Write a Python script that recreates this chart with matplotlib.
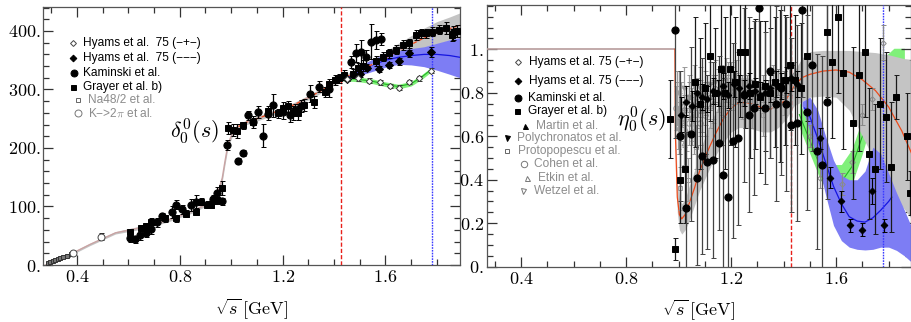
import numpy as np
import matplotlib
matplotlib.use("Agg")
import matplotlib.pyplot as plt
from matplotlib.ticker import FixedLocator, FixedFormatter, MultipleLocator

plt.rcParams['mathtext.fontset'] = 'cm'
plt.rcParams['font.family'] = ['Liberation Sans', 'DejaVu Sans']

# ---------------- ticks ----------------
x_ticks = [0.4, 0.8, 1.2, 1.6]
x_tick_labels = ['0.4', '0.8', '1.2', '1.6']
d_ticks = [0, 100, 200, 300, 400]
d_tick_labels = ['0.', '100.', '200.', '300.', '400.']
e_ticks = [0, 0.2, 0.4, 0.6, 0.8, 1.0]
e_tick_labels = ['0.', '0.2', '0.4', '0.6', '0.8', '1.']

E_red = 1.428
E_blue = 1.78

# ---------------- left: phase shift fit bands ----------------
d_fit_E = [0.279, 0.35, 0.45, 0.55, 0.65, 0.75, 0.85, 0.90, 0.93, 0.95, 0.965, 0.975, 0.985, 0.995,
           1.01, 1.03, 1.06, 1.10, 1.15, 1.20, 1.25, 1.30, 1.35, 1.40, 1.45, 1.50, 1.55, 1.60,
           1.65, 1.70, 1.75, 1.80, 1.85, 1.89]
d_fit = [0, 13, 35, 55, 64, 76, 92, 103, 113, 127, 148, 175, 200, 215,
         230, 237, 244, 250, 258, 266, 275, 286, 298, 311, 322, 333, 343, 354,
         366, 377, 388, 397, 404, 410]
d_fit_err = [1, 2, 2, 2, 3, 3, 3, 3, 4, 5, 6, 6, 6, 5,
             5, 4, 4, 4, 4, 4, 4, 4, 4, 4, 5, 7, 9, 11,
             13, 15, 17, 19, 20, 21]

d_blue_E = [1.44, 1.47, 1.50, 1.55, 1.60, 1.65, 1.70, 1.75, 1.80, 1.85, 1.89]
d_blue = [316, 325, 332, 342, 350, 355, 358, 360, 360, 358, 355]
d_blue_lo = [314, 320, 324, 331, 338, 343, 342, 339, 333, 326, 320]
d_blue_hi = [318, 330, 340, 352, 360, 366, 370, 373, 379, 385, 389]

d_green_E = [1.43, 1.47, 1.50, 1.55, 1.60, 1.65, 1.70, 1.74, 1.778]
d_green = [318, 318, 317, 314, 309, 305, 310, 321, 334]
d_green_err = [4, 4, 4, 4, 4, 4, 4, 4, 4]

# ---------------- left: data ----------------
kam_l_E = [0.606, 0.625, 0.645, 0.67, 0.69, 0.71, 0.729, 0.768, 0.787, 0.807, 0.845, 0.865, 0.928,
           0.946, 0.966, 0.985, 1.026, 1.046, 1.065, 1.085, 1.104, 1.123, 1.143, 1.162, 1.20, 1.227,
           1.25, 1.27, 1.305, 1.343, 1.38, 1.466, 1.486, 1.505, 1.525, 1.544, 1.563, 1.583, 1.861]
kam_l = [47, 44, 51, 54, 61, 73, 83, 91, 103, 95, 103, 107, 112,
         123, 109, 205, 178, 192, 256, 245, 262, 221, 258, 273, 262, 256,
         265, 272, 293, 305, 300, 347, 362, 364, 356, 382, 385, 386, 396]
kam_l_err = [8, 6, 8, 6, 8, 8, 6, 10, 8, 8, 10, 12, 8,
             10, 6, 8, 5, 5, 8, 10, 10, 20, 10, 20, 12, 12,
             10, 10, 15, 10, 12, 10, 15, 20, 12, 30, 15, 10, 12]

gray_l_E = [0.606, 0.65, 0.67, 0.69, 0.743, 0.787, 0.826, 0.865, 0.884, 0.904, 0.923, 0.946, 0.966,
            0.988, 1.007, 1.022, 1.046, 1.085, 1.143, 1.182, 1.201, 1.22, 1.24, 1.259, 1.285, 1.324,
            1.363, 1.382, 1.402, 1.421, 1.44, 1.473, 1.492, 1.512, 1.563, 1.589, 1.615, 1.641, 1.667,
            1.693, 1.719, 1.738, 1.757, 1.783, 1.809, 1.835, 1.86, 1.88]
gray_l = [57, 63, 66, 74, 80, 80, 88, 91, 108, 103, 103, 111, 132,
          234, 231, 229, 239, 245, 264, 259, 268, 271, 259, 259, 274, 279,
          296, 310, 316, 319, 325, 327, 336, 341, 349, 356, 362, 368, 376,
          379, 393, 396, 396, 399, 402, 405, 393, 400]
gray_l_err = [5, 5, 5, 6, 6, 6, 6, 6, 6, 6, 6, 6, 12,
              10, 10, 12, 6, 6, 8, 8, 10, 10, 12, 12, 10, 10,
              8, 8, 8, 8, 8, 8, 10, 10, 8, 8, 8, 8, 8,
              8, 8, 8, 8, 8, 8, 10, 10, 10]

hy2_l_E = [1.45, 1.50, 1.53, 1.574, 1.613, 1.654, 1.693, 1.777]
hy2_l = [318, 326, 337, 335, 342, 348, 362, 364]
hy2_l_err = [4, 4, 4, 5, 5, 6, 6, 8]

hy1_l_E = [1.45, 1.492, 1.535, 1.577, 1.616, 1.654, 1.693, 1.732, 1.777]
hy1_l = [318, 319, 315, 312, 306, 303, 313, 319, 332]
hy1_l_err = [3, 4, 4, 4, 4, 4, 4, 4, 4]

na48_E = [0.286, 0.295, 0.305, 0.315, 0.325, 0.335, 0.345, 0.36, 0.375]
na48 = [3, 5, 7, 9, 11, 12, 14, 16, 18]
na48_err = [1.5, 1.5, 1.5, 1.5, 1.5, 1.5, 1.5, 1.5, 1.5]

k2pi_E = [0.386, 0.493]
k2pi = [21, 48]
k2pi_err = [3, 6]

# ---------------- right: inelasticity fit bands ----------------
e_fit_E = [0.27, 0.986, 0.988, 0.995, 1.003, 1.012, 1.025, 1.04, 1.06, 1.08, 1.11, 1.14, 1.17,
           1.20, 1.23, 1.26, 1.29, 1.32, 1.35, 1.38, 1.41, 1.44, 1.47, 1.50, 1.55, 1.60, 1.65,
           1.70, 1.75, 1.80, 1.85, 1.888]
e_fit = [1.0, 1.0, 0.60, 0.32, 0.24, 0.22, 0.24, 0.29, 0.36, 0.44, 0.53, 0.61, 0.68,
         0.73, 0.755, 0.755, 0.745, 0.73, 0.725, 0.74, 0.77, 0.83, 0.87, 0.885, 0.90, 0.905, 0.895,
         0.86, 0.81, 0.735, 0.625, 0.52]
e_gray_lo = [0.997, 0.997, 0.54, 0.25, 0.17, 0.15, 0.17, 0.21, 0.28, 0.35, 0.43, 0.51, 0.57,
             0.62, 0.64, 0.64, 0.63, 0.62, 0.62, 0.64, 0.68, 0.74, 0.76, 0.78, 0.785, 0.78, 0.72,
             0.60, 0.48, 0.38, 0.28, 0.22]
e_gray_hi = [1.003, 1.003, 0.66, 0.39, 0.31, 0.29, 0.31, 0.37, 0.44, 0.53, 0.63, 0.71, 0.79,
             0.84, 0.87, 0.87, 0.86, 0.84, 0.83, 0.84, 0.86, 0.90, 0.96, 0.99, 0.995, 0.995, 0.995,
             0.99, 0.985, 0.975, 0.96, 0.95]

e_blue_E = [1.47, 1.50, 1.53, 1.56, 1.59, 1.62, 1.65, 1.68, 1.71, 1.74, 1.77, 1.80, 1.83, 1.86, 1.888]
e_blue_lo = [0.74, 0.62, 0.48, 0.33, 0.19, 0.12, 0.09, 0.08, 0.077, 0.08, 0.09, 0.09, 0.075, 0.05, 0.02]
e_blue_hi = [0.76, 0.78, 0.72, 0.60, 0.49, 0.42, 0.40, 0.40, 0.44, 0.55, 0.52, 0.43, 0.34, 0.26, 0.18]
e_blue_line_E = [1.48, 1.50, 1.53, 1.56, 1.59, 1.62, 1.65, 1.68, 1.71, 1.74, 1.77, 1.80, 1.812]
e_blue_line = [0.73, 0.69, 0.59, 0.48, 0.37, 0.29, 0.23, 0.21, 0.205, 0.225, 0.26, 0.30, 0.32]

e_green_E = [1.46, 1.50, 1.54, 1.58, 1.62, 1.66, 1.70, 1.74, 1.78, 1.82, 1.86]
e_green = [0.70, 0.58, 0.46, 0.40, 0.39, 0.46, 0.60, 0.76, 0.90, 0.95, 0.95]
e_green_err = [0.06, 0.06, 0.06, 0.07, 0.08, 0.08, 0.08, 0.07, 0.06, 0.055, 0.055]

# ---------------- right: data ----------------
kam_r_E = [0.987, 1.006, 1.029, 1.048, 1.069, 1.088, 1.109, 1.13, 1.152, 1.168, 1.19, 1.209, 1.228,
           1.25, 1.269, 1.288, 1.307, 1.329, 1.349, 1.37, 1.39, 1.41, 1.429, 1.45, 1.469, 1.488,
           1.507, 1.529, 1.548, 1.567]
kam_r = [1.09, 0.60, 0.27, 0.61, 0.41, 0.51, 0.48, 0.49, 0.57, 0.42, 0.32, 0.58, 0.59,
         0.79, 0.70, 0.73, 1.19, 0.73, 0.90, 0.75, 0.82, 0.75, 0.65, 0.66, 1.18, 0.71,
         0.93, 0.53, 0.47, 0.76]
kam_r_err = [0.5, 0.3, 0.35, 0.4, 0.4, 0.45, 0.4, 0.45, 0.4, 0.45, 0.4, 0.45, 0.4,
             0.4, 0.45, 0.4, 0.4, 0.35, 0.4, 0.45, 0.4, 0.4, 0.4, 0.45, 0.4, 0.45,
             0.4, 0.45, 0.5, 0.45]

gray_r_E = [0.968, 0.987, 1.006, 1.025, 1.063, 1.082, 1.101, 1.12, 1.139, 1.16, 1.178, 1.196, 1.215,
            1.234, 1.253, 1.272, 1.291, 1.31, 1.33, 1.349, 1.368, 1.387, 1.405, 1.425, 1.445, 1.465,
            1.488, 1.567, 1.586, 1.609, 1.628, 1.666, 1.689, 1.71, 1.727, 1.749, 1.768, 1.789, 1.808,
            1.828, 1.869, 1.882]
gray_r = [0.68, 0.08, 0.40, 0.45, 0.85, 0.75, 0.82, 0.97, 0.80, 0.91, 0.80, 0.91, 0.85,
          0.99, 0.99, 0.80, 0.84, 0.78, 0.83, 0.80, 0.85, 0.83, 0.86, 0.93, 0.86, 0.82,
          0.97, 1.08, 0.94, 1.15, 0.89, 0.66, 0.88, 0.99, 0.52, 0.45, 0.75, 0.69, 0.46,
          0.78, 0.60, 0.34]
gray_r_err = [0.18, 0.05, 0.2, 0.25, 0.3, 0.3, 0.3, 0.3, 0.3, 0.35, 0.35, 0.35, 0.3,
              0.3, 0.35, 0.3, 0.3, 0.35, 0.3, 0.3, 0.3, 0.35, 0.3, 0.3, 0.3, 0.3,
              0.3, 0.3, 0.35, 0.35, 0.35, 0.35, 0.35, 0.3, 0.3, 0.3, 0.3, 0.3, 0.3,
              0.1, 0.2, 0.1]

hy2_r_E = [1.01, 1.03, 1.05, 1.07, 1.09, 1.11, 1.13, 1.15, 1.17, 1.19, 1.21, 1.23, 1.25, 1.27,
           1.29, 1.31, 1.33, 1.35, 1.37, 1.39, 1.41, 1.43, 1.45, 1.539, 1.577, 1.619, 1.653, 1.698,
           1.738, 1.781]
hy2_r = [0.70, 0.76, 0.74, 0.80, 0.78, 0.77, 0.81, 0.80, 0.83, 0.79, 0.84, 0.82, 0.80, 0.83,
         0.81, 0.79, 0.80, 0.82, 0.84, 0.83, 0.86, 0.87, 0.84, 0.59, 0.41, 0.30, 0.19, 0.17,
         0.35, 0.19]
hy2_r_err = [0.08, 0.07, 0.07, 0.06, 0.06, 0.06, 0.06, 0.06, 0.06, 0.06, 0.06, 0.06, 0.06, 0.06,
             0.06, 0.06, 0.06, 0.06, 0.06, 0.06, 0.06, 0.06, 0.06, 0.05, 0.05, 0.05, 0.03, 0.03,
             0.06, 0.03]

hy1_r_E = [1.00, 1.02, 1.04, 1.06, 1.08, 1.10, 1.12, 1.14, 1.16, 1.18, 1.20, 1.22, 1.24, 1.26,
           1.28, 1.30, 1.32, 1.34, 1.36, 1.38, 1.40, 1.42, 1.44, 1.50, 1.539, 1.622, 1.66, 1.698,
           1.736, 1.78]
hy1_r = [0.60, 0.72, 0.78, 0.75, 0.80, 0.79, 0.78, 0.82, 0.80, 0.82, 0.81, 0.83, 0.80, 0.82,
         0.80, 0.78, 0.82, 0.80, 0.83, 0.85, 0.84, 0.85, 0.88, 0.60, 0.41, 0.38, 0.48, 0.70,
         0.77, 1.03]
hy1_r_err = [0.08, 0.07, 0.07, 0.06, 0.06, 0.06, 0.06, 0.06, 0.06, 0.06, 0.06, 0.06, 0.06, 0.06,
             0.06, 0.06, 0.06, 0.06, 0.06, 0.06, 0.06, 0.06, 0.06, 0.05, 0.05, 0.05, 0.05, 0.05,
             0.05, 0.08]

martin_E = [0.998, 1.01, 1.03, 1.05, 1.07, 1.09, 1.11, 1.13, 1.15, 1.17, 1.19]
martin = [0.64, 0.68, 0.63, 0.70, 0.74, 0.72, 0.78, 0.76, 0.81, 0.79, 0.84]
poly_E = [1.00, 1.02, 1.04, 1.06, 1.08, 1.10, 1.12, 1.14, 1.16, 1.18, 1.20, 1.22]
poly = [0.80, 0.82, 0.78, 0.83, 0.82, 0.80, 0.84, 0.85, 0.83, 0.86, 0.84, 0.85]
proto_E = [0.995, 1.005, 1.02, 1.035, 1.05, 1.065, 1.08, 1.10, 1.13, 1.16, 1.20, 1.24, 1.28,
           1.32, 1.36, 1.40]
proto = [0.75, 0.36, 0.65, 0.40, 0.72, 0.55, 0.70, 0.75, 0.78, 0.80, 0.82, 0.78, 0.74,
         0.70, 0.83, 0.80]
cohen_E = [0.99, 1.00, 1.01, 1.02, 1.04, 1.06, 1.08, 1.10]
cohen = [0.73, 0.70, 0.68, 0.72, 0.66, 0.62, 0.66, 0.70]
etkin_E = [1.0, 1.02, 1.05, 1.08, 1.12, 1.16, 1.20]
etkin = [0.62, 0.57, 0.66, 0.72, 0.74, 0.80, 0.82]
wetzel_E = [0.995, 1.01, 1.03, 1.05, 1.07, 1.09]
wetzel = [0.80, 0.75, 0.60, 0.68, 0.77, 0.72]
small_err = 0.1

# ---------------- legends ----------------
leg_l = ['Hyams et al.  75 (\u2212+\u2212)', 'Hyams et al.  75 (\u2212\u2212\u2212)',
         'Kaminski et al.', 'Grayer et al. b)', 'Na48/2 et al.', 'K\u2212>2$\\pi$ et al.']
leg_r = ['Hyams et al. 75 (\u2212+\u2212)', 'Hyams et al. 75 (\u2212\u2212\u2212)',
         'Kaminski et al.', 'Grayer et al. b)', 'Martin et al.', 'Polychronatos et al.',
         'Protopopescu et al.', 'Cohen et al.', 'Etkin et al.', 'Wetzel et al.']

# ---------------- colours ----------------
C_GRAYBAND = '#c4c4c4'
C_BLUEBAND = '#7d7df4'
C_GREENBAND = '#80f07a'
C_RED = '#ee4a1a'
C_BLUE = '#1414e0'
C_GREEN = '#22b822'
C_LGRAY = '#9a9a9a'

fig = plt.figure(figsize=(9.12, 3.22), dpi=100)
axL = fig.add_axes([43 / 912, 1 - 265 / 322, 417 / 912, 258 / 322])
axR = fig.add_axes([486.7 / 912, 1 - 266.7 / 322, 424.5 / 912, 261.7 / 322])


def style(ax, xl, yl, yt, ytl, ymin):
    ax.set_xlim(*xl)
    ax.set_ylim(*yl)
    ax.xaxis.set_major_locator(FixedLocator(x_ticks))
    ax.xaxis.set_major_formatter(FixedFormatter(['$' + t + '$' for t in x_tick_labels]))
    ax.xaxis.set_minor_locator(MultipleLocator(0.1))
    ax.yaxis.set_major_locator(FixedLocator(yt))
    ax.yaxis.set_major_formatter(FixedFormatter(['$' + t + '$' for t in ytl]))
    ax.yaxis.set_minor_locator(MultipleLocator(ymin))
    ax.tick_params(which='both', direction='in', top=True, right=True, color='#333333',
                   width=0.9, labelsize=13)
    ax.tick_params(which='major', length=7.5)
    ax.tick_params(which='minor', length=4.5)
    ax.tick_params(axis='y', pad=2)
    ax.tick_params(axis='x', pad=3)
    for s in ax.spines.values():
        s.set_color('#555555')
        s.set_linewidth(0.9)
    ax.set_xlabel(r'$\sqrt{s}\,[\mathrm{GeV}]$', fontsize=13, labelpad=7)


def eb(ax, E, v, err, marker, ms, mfc, mec, ecol, z, lw=0.9):
    ax.errorbar(E, v, yerr=err, fmt=marker, ms=ms, mfc=mfc, mec=mec, mew=0.7, ecolor=ecol,
                elinewidth=lw, capsize=1.8, capthick=lw, zorder=z)


# ======================= LEFT =======================
ax = axL
style(ax, (0.268, 1.89), (0, 441), d_ticks, d_tick_labels, 20)
E = np.array(d_fit_E); c = np.array(d_fit); w = np.array(d_fit_err)
ax.fill_between(d_green_E, np.array(d_green) - np.array(d_green_err),
                np.array(d_green) + np.array(d_green_err), color=C_GREENBAND, lw=0, zorder=1)
ax.plot(d_green_E, d_green, color=C_GREEN, lw=0.8, zorder=1.5)
ax.fill_between(E, c - w, c + w, color=C_GRAYBAND, lw=0, zorder=2)
ax.fill_between(d_blue_E, d_blue_lo, d_blue_hi, color=C_BLUEBAND, lw=0, zorder=2.5)
ax.plot(d_blue_E, d_blue, color=C_BLUE, lw=0.9, zorder=2.6)
ax.plot(E, c, color='#c9a3a3', lw=1.0, zorder=2.7)
hi = E >= 1.0
ax.plot(E[hi], c[hi], color=C_RED, lw=0.9, ls=(0, (3, 2)), zorder=2.8)
ax.axvline(E_red, color='#e8201a', lw=1.0, ls=(0, (3, 1.5)), zorder=3)
ax.axvline(E_blue, color='#3a3aff', lw=1.0, ls=(0, (1.2, 0.8)), zorder=3)

eb(ax, na48_E, na48, na48_err, 's', 3.0, '#777777', '#333333', '#333333', 4)
eb(ax, k2pi_E, k2pi, k2pi_err, 'o', 5.0, 'white', '#444444', '#222222', 4)
eb(ax, gray_l_E, gray_l, gray_l_err, 's', 3.8, 'black', 'black', 'black', 5)
eb(ax, kam_l_E, kam_l, kam_l_err, 'o', 5.2, 'black', 'black', 'black', 5)
eb(ax, hy2_l_E, hy2_l, hy2_l_err, 'D', 3.6, 'black', 'black', 'black', 6)
eb(ax, hy1_l_E, hy1_l, hy1_l_err, 'D', 3.2, 'white', '#444444', '#333333', 6)

ax.text(0.858, 227, r'$\delta_0^0(s)$', fontsize=16, ha='center', va='center', zorder=7)

lx_m = [0.0712, 0.0712, 0.0735, 0.0712, 0.0832, 0.0832]
lx_t = [0.0959, 0.0959, 0.0959, 0.0959, 0.1079, 0.1079]
ly = [0.8616, 0.8012, 0.7442, 0.6911, 0.6407, 0.5891]
lmk = [('D', 3.0, 'white', '#444444'), ('D', 3.4, 'black', 'black'), ('o', 5.0, 'black', 'black'),
       ('s', 3.6, 'black', 'black'), ('s', 3.2, 'white', '#666666'), ('o', 5.0, 'white', '#777777')]
lcol = ['black', 'black', 'black', 'black', '#8c8c8c', '#8c8c8c']
for i in range(6):
    m, ms, fc, ec = lmk[i]
    ax.plot([lx_m[i]], [ly[i]], m, ms=ms, mfc=fc, mec=ec, mew=0.7, transform=ax.transAxes,
            zorder=8)
    ax.text(lx_t[i], ly[i], leg_l[i], transform=ax.transAxes, fontsize=8.6, color=lcol[i],
            va='center', ha='left', zorder=8)

# ======================= RIGHT =======================
ax = axR
style(ax, (0.269, 1.886), (0, 1.204), e_ticks, e_tick_labels, 0.05)
ge = np.array(e_green); gw = np.array(e_green_err)
ax.fill_between(e_green_E, ge - gw, ge + gw, color=C_GREENBAND, lw=0, zorder=1)
ax.plot(e_green_E, e_green, color=C_GREEN, lw=0.8, zorder=1.5)
ax.fill_between(e_fit_E[1:], e_gray_lo[1:], e_gray_hi[1:], color=C_GRAYBAND, lw=0, zorder=2)
ax.fill_between(e_blue_E, e_blue_lo, e_blue_hi, color=C_BLUEBAND, lw=0, zorder=2.5)
ax.plot(e_blue_line_E, e_blue_line, color=C_BLUE, lw=0.9, zorder=2.6)
ax.plot(e_fit_E[:2], e_fit[:2], color='#b89c9c', lw=1.2, zorder=2.7)
ax.plot(e_fit_E[1:], e_fit[1:], color=C_RED, lw=0.9, zorder=2.8)
ax.axvline(E_red, color='#e8201a', lw=1.0, ls=(0, (3, 1.5)), zorder=3)
ax.axvline(E_blue, color='#3a3aff', lw=1.0, ls=(0, (1.2, 0.8)), zorder=3)

eb(ax, martin_E, martin, small_err, '^', 3.4, C_LGRAY, C_LGRAY, C_LGRAY, 4)
eb(ax, poly_E, poly, small_err, 'v', 3.4, C_LGRAY, C_LGRAY, C_LGRAY, 4)
eb(ax, proto_E, proto, small_err, 's', 3.2, 'none', C_LGRAY, C_LGRAY, 4)
eb(ax, cohen_E, cohen, small_err, 'o', 4.0, 'none', C_LGRAY, C_LGRAY, 4)
eb(ax, etkin_E, etkin, small_err, '^', 3.4, 'none', C_LGRAY, C_LGRAY, 4)
eb(ax, wetzel_E, wetzel, small_err, 'v', 3.4, 'none', C_LGRAY, C_LGRAY, 4)
eb(ax, hy1_r_E, hy1_r, hy1_r_err, 'D', 2.8, 'none', '#8a8a8a', '#8a8a8a', 4.5)
eb(ax, gray_r_E, gray_r, gray_r_err, 's', 3.8, 'black', 'black', '#1a1a1a', 5)
eb(ax, kam_r_E, kam_r, kam_r_err, 'o', 5.2, 'black', 'black', '#444444', 5)
eb(ax, hy2_r_E, hy2_r, hy2_r_err, 'D', 3.4, 'black', 'black', 'black', 6)

ax.text(0.86, 0.675, r'$\eta_0^0(s)$', fontsize=16, ha='center', va='center', zorder=7)

rx_m = [0.0741, 0.0741, 0.0741, 0.0718, 0.0898, 0.0471, 0.0485, 0.0868, 0.0955, 0.0847]
rx_t = [0.0993, 0.0993, 0.0977, 0.0977, 0.1153, 0.0721, 0.0744, 0.1120, 0.1214, 0.1106]
ry = [0.7810, 0.7107, 0.6435, 0.5954, 0.5376, 0.4929, 0.4422, 0.3913, 0.3408, 0.2905]
rmk = [('D', 3.0, 'white', '#444444'), ('D', 3.4, 'black', 'black'), ('o', 5.0, 'black', 'black'),
       ('s', 3.6, 'black', 'black'), ('^', 3.6, 'black', 'black'), ('v', 3.6, 'black', 'black'),
       ('s', 3.2, 'white', '#666666'), ('o', 4.6, 'white', '#777777'), ('^', 3.6, 'white', '#777777'),
       ('v', 3.6, 'white', '#777777')]
rcol = ['black'] * 4 + ['#8c8c8c'] * 6
for i in range(10):
    m, ms, fc, ec = rmk[i]
    ax.plot([rx_m[i]], [ry[i]], m, ms=ms, mfc=fc, mec=ec, mew=0.7, transform=ax.transAxes,
            zorder=8)
    ax.text(rx_t[i], ry[i], leg_r[i], transform=ax.transAxes, fontsize=8.6, color=rcol[i],
            va='center', ha='left', zorder=8)

fig.savefig('out.png', dpi=100)
